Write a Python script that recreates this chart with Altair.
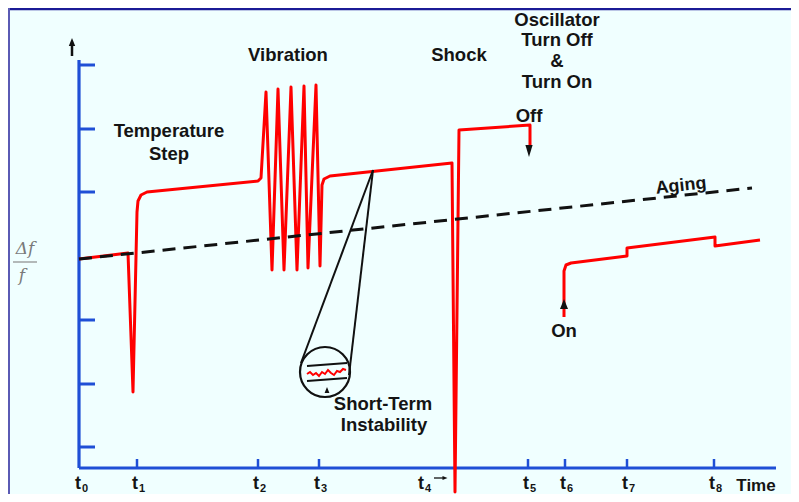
import altair as alt
import pandas as pd

# ---------------- values (schematic units = original pixel grid) -------------
# time axis: tick names and positions
t_names = ["0", "1", "2", "3", "4", "5", "6", "7", "8"]
t_pos = [79, 137, 258, 319, 452, 528, 565, 627, 714]
t_label_x = [78, 135, 256, 317, 421, 526, 563, 625, 712]
# frequency axis ticks
f_ticks = [65, 129, 192, 320, 384, 447]

# red trace, part 1 (t0 ... oscillator turned off)
red1_x = [79, 128, 133, 137, 138, 141, 147, 258, 261, 266, 272, 278, 284, 291, 297, 304, 308, 316,
          320, 322, 324, 330, 452, 455, 459, 530, 530]
red1_y = [259, 253, 392, 212, 201, 195, 192, 181, 178, 92, 270, 89, 270, 87, 270, 86, 268, 85,
          266, 185, 179, 176, 163, 492, 130, 125, 147]
# red trace, part 2 (oscillator turned on ...)
red2_x = [564, 564, 566, 571, 627, 627, 715, 715, 760]
red2_y = [317, 271, 265, 263, 256, 248, 237, 246, 240]
# aging trend
aging_x = [79, 752]
aging_y = [259, 188]

# magnifier (short-term instability)
cone_x = [373, 373]
cone_y = [170, 170]
cone_x2 = [301, 349]
cone_y2 = [363, 375]
lens_x = [325]
lens_y = [372]
band_x = [307, 307]
band_y = [366, 381]
band_x2 = [347, 347]
band_y2 = [363, 378]
noise_x = [307, 310, 313, 316, 319, 322, 325, 328, 331, 334, 337, 340, 343, 346]
noise_y = [374, 372, 375, 373, 376, 372, 374, 370, 373, 375, 371, 372, 369, 370]

# annotations
ann_text = ["Temperature", "Step", "Vibration", "Shock", "Oscillator", "Turn Off", "&", "Turn On",
            "Off", "On", "Short-Term", "Instability"]
ann_x = [169, 169, 288, 459, 557, 557, 557, 557, 529, 564, 383, 384]
ann_y = [131, 154, 55, 55, 20, 40, 61, 82, 116, 331, 404, 425]

BG = "#F0FFFF"
AXIS_BLUE = "#1F4FD6"
RED = "#FF0000"
FONT = "Liberation Sans"

xs = alt.Scale(domain=[8, 791], nice=False, zero=False)
ys = alt.Scale(domain=[8, 494], nice=False, zero=False, reverse=True)


def X(f="x"):
    return alt.X(f"{f}:Q", scale=xs, axis=None)


def Y(f="y"):
    return alt.Y(f"{f}:Q", scale=ys, axis=None)


def segs(x, y, x2, y2):
    return pd.DataFrame({"x": x, "y": y, "x2": x2, "y2": y2})


def rules(df, color, width, dash=None):
    kw = dict(color=color, strokeWidth=width, strokeCap="butt")
    if dash:
        kw["strokeDash"] = dash
    return alt.Chart(df).mark_rule(**kw).encode(
        x=X(), y=Y(), x2=alt.X2("x2:Q"), y2=alt.Y2("y2:Q"))


layers = []

# frame borders (top and left)
layers.append(rules(segs([8], [9], [791], [9]), "#1B1B96", 2.5))
layers.append(rules(segs([9], [8], [9], [494]), "#5A5AB4", 2))

# axes
layers.append(rules(segs([79, 79], [60, 468], [79, 776], [468, 468]), AXIS_BLUE, 3.2))
layers.append(rules(segs([79] * len(f_ticks), f_ticks, [95] * len(f_ticks), f_ticks), AXIS_BLUE, 3))
xt = [p for i, p in enumerate(t_pos) if i not in (0, 4)]
layers.append(rules(segs(xt, [459] * len(xt), xt, [468] * len(xt)), AXIS_BLUE, 2.5))

# y-axis arrow
layers.append(rules(segs([72], [45], [72], [56]), "#111111", 2.5))
tri_up = "M0,-1L0.8,1L-0.8,1Z"
tri_down = "M-0.6,-1L0.6,-1L0,1Z"
tri_right = "M1,0L-1,0.8L-1,-0.8Z"


def arrowheads(x, y, shape, size):
    return alt.Chart(pd.DataFrame({"x": x, "y": y})).mark_point(
        shape=shape, size=size, filled=True, color="#111111", opacity=1, strokeWidth=0
    ).encode(x=X(), y=Y())


layers.append(arrowheads([72], [42], tri_up, 64))

# Δf / f label
layers.append(rules(segs([13], [262], [37], [262]), "#8A8A8A", 1.2))
frac = pd.DataFrame({"t": ["Δf", "f"], "x": [25, 22], "y": [249, 276]})
layers.append(alt.Chart(frac).mark_text(font="DejaVu Serif", fontStyle="italic", fontSize=17,
                                        color="#7A7A7A", baseline="middle", align="center")
              .encode(x=X(), y=Y(), text="t:N"))

# red trace
red = pd.DataFrame({
    "x": red1_x + red2_x,
    "y": red1_y + red2_y,
    "seg": ["a"] * len(red1_x) + ["b"] * len(red2_x),
    "i": list(range(len(red1_x))) + list(range(len(red2_x))),
})
layers.append(alt.Chart(red).mark_line(color=RED, strokeWidth=3, strokeJoin="round",
                                       strokeCap="butt")
              .encode(x=X(), y=Y(), detail="seg:N", order="i:Q"))

# aging dashed line
aging = pd.DataFrame({"x": aging_x, "y": aging_y, "i": [0, 1]})
layers.append(alt.Chart(aging).mark_line(color="#111111", strokeWidth=3, strokeDash=[13, 8])
              .encode(x=X(), y=Y(), order="i:Q"))

# magnifier
layers.append(rules(segs(cone_x, cone_y, cone_x2, cone_y2), "#111111", 2))
layers.append(alt.Chart(pd.DataFrame({"x": lens_x, "y": lens_y})).mark_point(
    shape="circle", size=2500, filled=False, color="#111111", strokeWidth=2.2, opacity=1)
    .encode(x=X(), y=Y()))
layers.append(rules(segs(band_x, band_y, band_x2, band_y2), "#111111", 2.2))
noise = pd.DataFrame({"x": noise_x, "y": noise_y, "i": list(range(len(noise_x)))})
layers.append(alt.Chart(noise).mark_line(color=RED, strokeWidth=2)
              .encode(x=X(), y=Y(), order="i:Q"))

# arrowheads (Off, On, magnifier, t4)
layers.append(arrowheads([529], [151], tri_down, 144))
layers.append(arrowheads([564], [304], tri_up, 100))
layers.append(arrowheads([327], [390], tri_up, 36))
layers.append(rules(segs([434], [478], [443], [478]), "#111111", 1.3))
layers.append(arrowheads([445], [478], tri_right, 25))

# annotations
ann = pd.DataFrame({"t": ann_text, "x": ann_x, "y": ann_y})
text_base = dict(font=FONT, fontWeight="bold", color="#141414", baseline="middle", align="center")
layers.append(alt.Chart(ann).mark_text(fontSize=18.5, **text_base).encode(x=X(), y=Y(), text="t:N"))
layers.append(alt.Chart(pd.DataFrame({"t": ["Aging"], "x": [681], "y": [186]}))
              .mark_text(fontSize=18, angle=354, **text_base).encode(x=X(), y=Y(), text="t:N"))
layers.append(alt.Chart(pd.DataFrame({"t": ["Time"], "x": [756], "y": [486]}))
              .mark_text(fontSize=17, **text_base).encode(x=X(), y=Y(), text="t:N"))

# time tick labels t with subscripts
tl = pd.DataFrame({"t": ["t"] * len(t_names), "x": t_label_x, "y": [484] * len(t_names)})
sub = pd.DataFrame({"t": t_names, "x": [p + 7 for p in t_label_x], "y": [489] * len(t_names)})
layers.append(alt.Chart(tl).mark_text(fontSize=18, **text_base).encode(x=X(), y=Y(), text="t:N"))
layers.append(alt.Chart(sub).mark_text(fontSize=11, **text_base).encode(x=X(), y=Y(), text="t:N"))

chart = alt.layer(*layers).properties(
    width=783, height=486, background=BG, padding=0,
    autosize=alt.AutoSizeParams(type="none"),
).configure_view(stroke=None)

chart.save("out.html", embed_options={"renderer": "svg", "actions": False})
